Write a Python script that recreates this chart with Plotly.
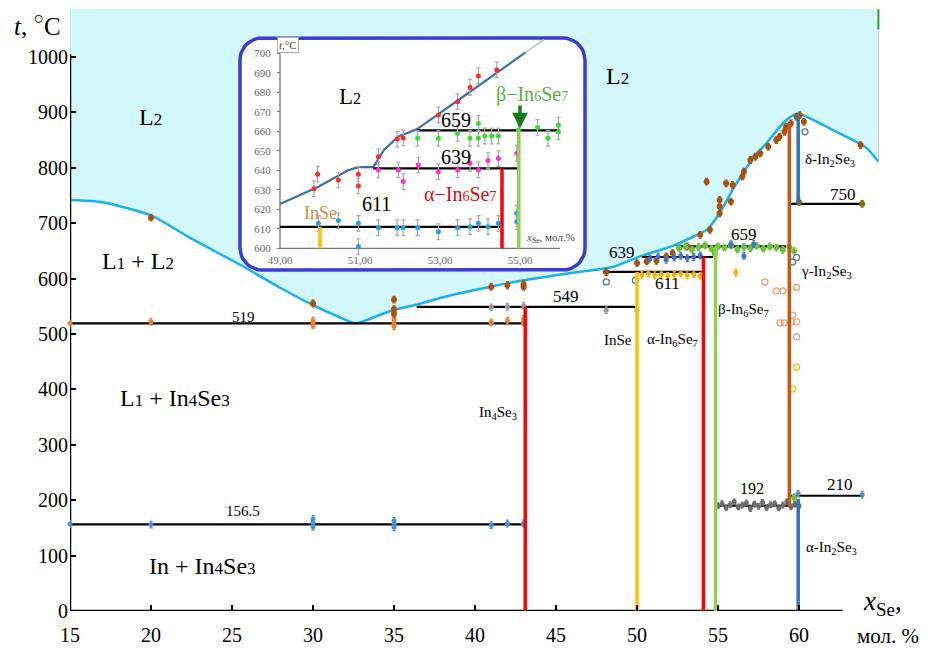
import numpy as np
import plotly.graph_objects as go

# ---------------- main diagram data ----------------
x_ticks = [15, 20, 25, 30, 35, 40, 45, 50, 55, 60]
y_ticks = [0, 100, 200, 300, 400, 500, 600, 700, 800, 900, 1000]

# liquidus (boundary of the L2 field)
liq_x = [15, 17, 20, 22.5, 25.5, 28, 30, 31.5, 32.6, 33.3, 34.9, 36.4, 38.5, 40.9, 43, 45.9,
         48.5, 50.2, 52.2, 53.5, 54.3, 55.1, 55.5, 55.9, 56.4, 56.8, 57.2, 57.8, 58.4, 59.0,
         59.65, 59.96, 60.9, 62.1, 63.35, 64.2, 64.9]
liq_t = [742, 738, 714, 672, 625, 583, 552, 532, 519, 525, 543, 553, 570, 585, 597, 610,
         621, 640, 659, 676, 688, 718, 739, 760, 784, 802, 820, 838, 859, 880,
         895, 898, 886, 868, 850, 835, 811]
l2_top = 1086

# invariant horizontals
iso_t = [519, 156.5, 549, 612, 639, 658, 735, 190, 208]
iso_x0 = [15, 15, 36.4, 47.9, 50.3, 52.45, 59.4, 54.9, 59.4]
iso_x1 = [43.1, 43.1, 50.0, 54.0, 54.7, 59.2, 63.9, 59.95, 63.9]
iso_lbl = ["519", "156.5", "549", "639", "611", "659", "750", "192", "210"]
iso_lbl_x = [25.7, 25.7, 45.6, 49.1, 51.9, 56.6, 62.7, 57.1, 62.5]
iso_lbl_t = [531, 180, 567, 647, 591, 679, 751, 221, 228]
iso_lbl_size = [15, 15, 17, 17, 17, 17, 17, 16, 17]

# phase (compound) verticals
ph_x = [43.1, 50.0, 54.1, 54.85, 59.4, 59.95, 59.95]
ph_t0 = [0, 0, 0, 0, 190, 735, 0]
ph_t1 = [549, 612, 639, 658, 881, 895, 202]
ph_col = ["#ff0000", "#ffc000", "#ff0000", "#92d050", "#c55a11", "#2e75b6", "#2e75b6"]

ph_lbl = ["In<sub>4</sub>Se<sub>3</sub>", "InSe", "α-In<sub>6</sub>Se<sub>7</sub>",
          "β-In<sub>6</sub>Se<sub>7</sub>", "γ-In<sub>2</sub>Se<sub>3</sub>",
          "δ-In<sub>2</sub>Se<sub>3</sub>", "α-In<sub>2</sub>Se<sub>3</sub>"]
ph_lbl_x = [41.4, 48.8, 52.2, 56.6, 61.7, 61.9, 62.0]
ph_lbl_t = [358, 489, 489, 543, 612, 814, 113]

# field labels
S = "<span style='font-size:17px'>{}</span>"
fld_lbl = ["L" + S.format(2), "L" + S.format(2), "L" + S.format(1) + " + L" + S.format(2),
           "L" + S.format(1) + " + In" + S.format(4) + "Se" + S.format(3),
           "In + In" + S.format(4) + "Se" + S.format(3)]
fld_x = [19.95, 48.8, 19.2, 21.5, 23.2]
fld_t = [891, 966, 632, 384, 81]

# experimental points (main)
or_x = [15, 20, 30, 30, 30, 35, 35, 35, 35, 41, 42, 43, 43]
or_t = [519, 522, 519, 524, 516, 519, 514, 526, 533, 521, 524, 521, 527]
br_x = [20, 30, 35, 35, 35, 41, 42, 43, 43, 48.1, 50.0, 50.6, 51.2, 51.8, 52.2, 53.1, 53.9,
        54.3, 54.5, 55.1, 55.1, 55.1, 55.5, 55.8, 55.9, 56.5, 56.6, 57.0, 57.3, 57.6, 58.1,
        58.6, 58.8, 59.1, 59.2, 59.5, 59.85, 60.05, 60.3, 63.8]
br_t = [710, 555, 562, 545, 537, 585, 588, 590, 585, 612, 628, 631, 632, 640, 646, 658, 679,
        775, 688, 742, 730, 718, 772, 739, 769, 784, 793, 814, 820, 826, 838,
        850, 856, 865, 874, 880, 892, 895, 883, 841]
ol_x = [60.0, 63.9]
ol_t = [738, 735]
gr_x = [41, 42, 43, 48.1, 50.0]
gr_t = [548, 549, 551, 543, 543]
bl_x = [15, 20, 30, 30, 30, 35, 35, 35, 41, 42, 43, 59.95, 63.9]
bl_t = [157, 156, 166, 159, 152, 163, 157, 151, 155, 158, 158, 212, 210]
b639_x = [50.8, 51.3, 51.8, 52.3, 52.7, 53.1, 53.5, 53.9, 55.8, 56.6, 57.2]
b639_t = [636, 640, 634, 638, 641, 637, 639, 642, 662, 641, 662]
gd_x = [50.3, 50.7, 51.1, 51.5, 51.9, 52.3, 52.7, 53.1, 53.5, 53.9, 56.1]
gd_t = [607, 609, 606, 608, 605, 607, 609, 606, 608, 605, 611]
gn_x = [52.6, 53.0, 53.4, 53.8, 54.2, 54.6, 55.0, 55.4, 55.8, 56.2, 56.6, 57.0, 57.4, 57.8,
        58.2, 58.6, 59.0, 59.4, 59.7, 54.8, 54.8, 59.7]
gn_t = [655, 658, 652, 657, 660, 654, 658, 656, 660, 653, 657, 655, 659, 654,
        658, 656, 652, 657, 650, 645, 650, 205]
o_open_x = [57.9, 58.6, 59.0, 59.85, 58.83, 59.1, 59.55, 59.85]
o_open_t = [594, 578, 578, 584, 520, 520, 522, 522]
b_open_x = [48.1, 49.9, 59.85, 59.6, 60.37]
b_open_t = [594, 597, 638, 630, 865]
g_open_x = [59.6, 59.85]
g_open_t = [534, 495]
y_open_x = [59.85, 59.6]
y_open_t = [440, 401]
k192_x = [55.0, 55.25, 55.5, 55.75, 56.0, 56.25, 56.5, 56.75, 57.0, 57.25, 57.5, 57.75, 58.0,
          58.25, 58.5, 58.75, 59.0, 59.25, 59.5, 59.75, 60.0]
k192_t = [190, 194, 186, 192, 197, 188, 191, 195, 185, 193, 189, 196, 187, 192, 194, 186,
          191, 197, 188, 193, 190]

# ---------------- inset data ----------------
in_x_ticks = [49, 51, 53, 55]
in_x_text = ["49,00", "51,00", "53,00", "55,00"]
in_y_ticks = [600, 610, 620, 630, 640, 650, 660, 670, 680, 690, 700]
in_liq_x = [49.0, 49.96, 50.7, 50.96, 51.33, 51.6, 51.96, 52.42, 53.7, 55.13]
in_liq_t = [622.7, 631.6, 640.0, 641.6, 641.6, 650.4, 657.3, 661.0, 679.5, 700.3]
in_liq_ext_x = [55.13, 55.6]
in_liq_ext_t = [700.3, 707.0]
in_iso_t = [611, 641, 660.5]
in_iso_x0 = [49.0, 51.33, 52.42]
in_iso_x1 = [54.5, 55.0, 56.0]
in_ph_x = [50.0, 54.55, 54.97]
in_ph_t1 = [611, 641, 660.5]
in_ph_col = ["#ffc000", "#ff0000", "#92d050"]
in_red_x = [49.85, 49.94, 50.46, 50.96, 50.96, 51.46, 51.93, 52.08, 52.96, 53.44, 53.75, 53.96, 54.42]
in_red_t = [630.6, 638.0, 635.0, 638.0, 632.0, 647.0, 656.0, 656.6, 668.4, 675.2, 682.6, 688.4, 691.5]
in_mag_x = [51.46, 51.96, 52.08, 52.46, 52.96, 53.44, 53.75, 53.96, 54.2, 54.46, 54.92]
in_mag_t = [640.2, 640.2, 634.2, 642.7, 639.3, 640.2, 643.6, 640.2, 645.0, 646.0, 648.7]
in_grn_x = [52.44, 52.96, 53.44, 53.75, 53.96, 53.96, 54.12, 54.29, 54.46, 54.96, 55.44, 55.7, 55.96, 55.96]
in_grn_t = [656.4, 656.4, 659.0, 656.4, 656.4, 664.0, 657.6, 657.6, 657.6, 660.7, 662.0, 656.4, 659.8, 663.2]
in_blu_x = [49.96, 50.46, 50.96, 50.96, 51.46, 51.93, 52.08, 52.44, 52.96, 53.44, 53.75, 53.96, 54.2, 54.46, 54.92, 54.92]
in_blu_t = [612.8, 614.2, 612.8, 600.9, 610.6, 610.6, 610.6, 610.6, 608.5, 610.6, 611.1, 612.8, 611.1, 612.8, 618.0, 613.7]

# ---------------- geometry helpers (window pixel layout) ----------------
# the page body has an 8 px default margin, so the figure starts at window (8, 8)
OFF = 8
W, H = 930, 648
ML, MR, MT, MB = 62, 58, 0, 45
PW, PH = W - ML - MR, H - MT - MB
Y_TOP = (611 - 8) / 0.554          # value at the top edge of the plot area


def px2paper_x(px):
    return (px - OFF - ML) / PW


def py2paper_y(py):
    return (H - MB - (py - OFF)) / PH


# inset: x=49 at px 280, 40 px/unit ; t=600 at py 248.3, 1.95 px/unit (window px)
IX0, IXS, IY0, IYS = 280.0, 40.0, 248.3, 1.95
dom_px = (237, 588)
dom_py = (273, 35)
in_xr = [49 - (IX0 - dom_px[0]) / IXS, 49 + (dom_px[1] - IX0) / IXS]
in_yr = [600 - (dom_py[0] - IY0) / IYS, 600 + (IY0 - dom_py[1]) / IYS]
bx0, bx1 = 49 - (IX0 - 240) / IXS, 49 + (585 - IX0) / IXS
by0, by1 = 600 - (270 - IY0) / IYS, 600 + (IY0 - 38) / IYS
rx, ry = 22 / IXS, 22 / IYS


def rounded(x0, x1, y0, y1, rx, ry, n=10):
    xs, ys = [], []
    for cx, cy, a0, a1 in [(x1 - rx, y1 - ry, 0, 90), (x0 + rx, y1 - ry, 90, 180),
                           (x0 + rx, y0 + ry, 180, 270), (x1 - rx, y0 + ry, 270, 360)]:
        for a in np.radians(np.linspace(a0, a1, n)):
            xs.append(cx + rx * np.cos(a))
            ys.append(cy + ry * np.sin(a))
    xs.append(xs[0])
    ys.append(ys[0])
    return xs, ys


def segs(x0s, x1s, t0s, t1s):
    xs, ys = [], []
    for a, b, c, d in zip(x0s, x1s, t0s, t1s):
        xs += [a, b, None]
        ys += [c, d, None]
    return xs, ys


fig = go.Figure()
NOH = dict(hoverinfo="skip", showlegend=False)

# L2 field fill
fig.add_trace(go.Scatter(x=[liq_x[0], liq_x[-1]], y=[l2_top, l2_top], mode="lines",
                         line=dict(width=0), **NOH))
fig.add_trace(go.Scatter(x=liq_x, y=liq_t, mode="lines", fill="tonexty", fillcolor="#d3f8fc",
                         line=dict(color="#1ab0ea", width=2.5, shape="spline", smoothing=0.6), **NOH))
fig.add_trace(go.Scatter(x=[liq_x[-1], liq_x[-1]], y=[liq_t[-1], l2_top], mode="lines",
                         line=dict(color="#c8c8c8", width=1), **NOH))
fig.add_trace(go.Scatter(x=[15, 15], y=[1005, l2_top], mode="lines",
                         line=dict(color="#d0d0d0", width=1), **NOH))
fig.add_trace(go.Scatter(x=[liq_x[-1], liq_x[-1]], y=[1050, l2_top], mode="lines",
                         line=dict(color="#2ca02c", width=2), **NOH))

# axes lines
fig.add_trace(go.Scatter(x=[15, 62.7], y=[0, 0], mode="lines", line=dict(color="black", width=2.5), **NOH))
fig.add_trace(go.Scatter(x=[15, 15], y=[0, 1005], mode="lines", line=dict(color="black", width=2.5), **NOH))

# isotherms
sx, sy = segs(iso_x0, iso_x1, iso_t, iso_t)
fig.add_trace(go.Scatter(x=sx, y=sy, mode="lines", line=dict(color="black", width=2.2), **NOH))


def pts(x, y, color, size=5, sym="circle", err=6, open_=False, xa="x", ya="y", ecol=None, ew=1.5):
    mk = dict(color=color, size=size, symbol=sym)
    if open_:
        mk = dict(color=color, size=size, symbol="circle-open", line=dict(color=color, width=1.3))
    tr = go.Scatter(x=x, y=y, mode="markers", marker=mk, xaxis=xa, yaxis=ya, cliponaxis=False, **NOH)
    if err:
        tr.error_y = dict(type="constant", value=err, color=ecol or color, thickness=1.2, width=ew)
    return tr


fig.add_trace(pts(k192_x, k192_t, "#6e6e6e", size=5, err=5))
fig.add_trace(pts(or_x, or_t, "#ed7d31"))
fig.add_trace(pts(br_x, br_t, "#a9500f", size=6))
fig.add_trace(pts(ol_x, ol_t, "#8a6d00", size=6))
fig.add_trace(pts(gr_x, gr_t, "#9a9a9a"))
fig.add_trace(pts(bl_x, bl_t, "#4a90d9"))
fig.add_trace(pts(gd_x, gd_t, "#f0b400"))
fig.add_trace(pts(gn_x, gn_t, "#70c040", size=6))
fig.add_trace(pts(b639_x, b639_t, "#3f72c0"))
fig.add_trace(pts(o_open_x, o_open_t, "#f4a070", size=6, err=0, open_=True))
fig.add_trace(pts(b_open_x, b_open_t, "#5577bb", size=6, err=0, open_=True))
fig.add_trace(pts(g_open_x, g_open_t, "#b0b0b0", size=6, err=0, open_=True))
fig.add_trace(pts(y_open_x, y_open_t, "#ffc000", size=6, err=0, open_=True))

# phase verticals
for x, t0, t1, c in zip(ph_x, ph_t0, ph_t1, ph_col):
    fig.add_trace(go.Scatter(x=[x, x], y=[t0, t1], mode="lines", line=dict(color=c, width=3.5), **NOH))

# ---------------- inset ----------------
bxs, bys = rounded(bx0, bx1, by0, by1, rx, ry)
fig.add_trace(go.Scatter(x=bxs, y=bys, mode="lines", fill="toself", fillcolor="white",
                         line=dict(color="#3c3ccf", width=3.5), xaxis="x2", yaxis="y2", **NOH))
fig.add_trace(go.Scatter(x=[49, 56], y=[600, 600], mode="lines", line=dict(color="#777", width=1.3),
                         xaxis="x2", yaxis="y2", **NOH))
fig.add_trace(go.Scatter(x=[49, 49], y=[600, 700], mode="lines", line=dict(color="#777", width=1.3),
                         xaxis="x2", yaxis="y2", **NOH))
fig.add_trace(go.Scatter(x=in_liq_ext_x, y=in_liq_ext_t, mode="lines", line=dict(color="#a9bfd6", width=1.5),
                         xaxis="x2", yaxis="y2", **NOH))
fig.add_trace(go.Scatter(x=in_liq_x, y=in_liq_t, mode="lines", line=dict(color="#3d6ea6", width=2.2),
                         xaxis="x2", yaxis="y2", **NOH))
sx, sy = segs(in_iso_x0, in_iso_x1, in_iso_t, in_iso_t)
fig.add_trace(go.Scatter(x=sx, y=sy, mode="lines", line=dict(color="black", width=2.2),
                         xaxis="x2", yaxis="y2", **NOH))
for arr_x, arr_t, c in [(in_red_x, in_red_t, "#ff2a2a"), (in_mag_x, in_mag_t, "#ff33cc"),
                        (in_grn_x, in_grn_t, "#33dd33"), (in_blu_x, in_blu_t, "#20a0e8")]:
    fig.add_trace(pts(arr_x, arr_t, c, size=5, err=4, xa="x2", ya="y2", ecol="#a8a8a8", ew=2))
for x, t1, c in zip(in_ph_x, in_ph_t1, in_ph_col):
    fig.add_trace(go.Scatter(x=[x, x], y=[600, t1], mode="lines", line=dict(color=c, width=3.5),
                             xaxis="x2", yaxis="y2", **NOH))

# ---------------- annotations ----------------
C = dict(xanchor="center", yanchor="middle", showarrow=False)
ann = []
for txt, x, t in zip(fld_lbl, fld_x, fld_t):
    ann.append(dict(x=x, y=t, text=txt, font=dict(size=24), **C))
for txt, x, t, s in zip(iso_lbl, iso_lbl_x, iso_lbl_t, iso_lbl_size):
    ann.append(dict(x=x, y=t, text=txt, font=dict(size=s), **C))
for txt, x, t in zip(ph_lbl, ph_lbl_x, ph_lbl_t):
    ann.append(dict(x=x, y=t, text=txt, font=dict(size=15), **C))

ann.append(dict(xref="paper", yref="paper", x=px2paper_x(37), y=py2paper_y(24),
                text="<i>t</i>, <sup>○</sup>C", font=dict(size=25), **C))
ann.append(dict(xref="paper", yref="paper", x=px2paper_x(882), y=py2paper_y(603),
                text="<i>x</i><sub>Se</sub>,", font=dict(size=27), **C))
ann.append(dict(xref="paper", yref="paper", x=px2paper_x(888), y=py2paper_y(636),
                text="мол. %", font=dict(size=21), **C))

s14 = "<span style='font-size:14px'>{}</span>"
in_ann = [
    ("L" + "<span style='font-size:16px'>2</span>", 50.75, 678, 23, "black"),
    ("659", 53.4, 666, 20, "black"),
    ("639", 53.4, 647, 20, "black"),
    ("611", 51.4, 622.5, 20, "black"),
    ("InSe", 50.0, 618, 18, "#d98a40"),
    ("α−In" + s14.format(6) + "Se" + s14.format(7), 53.5, 628, 20, "#cc1111"),
    ("β−In" + s14.format(6) + "Se" + s14.format(7), 55.3, 679, 20, "#5cb040"),
]
for txt, x, t, s, c in in_ann:
    ann.append(dict(x=x, y=t, xref="x2", yref="y2", text=txt, font=dict(size=s, color=c), **C))
ann.append(dict(x=55.0, y=661.5, ax=55.0, ay=674, xref="x2", yref="y2", axref="x2", ayref="y2",
                text="", showarrow=True, arrowhead=2, arrowsize=0.9, arrowwidth=3.5, arrowcolor="#1a7a1a"))
ann.append(dict(x=55.75, y=605.5, xref="x2", yref="y2", text="<i>x</i><sub>Se</sub>, мол.%",
                font=dict(size=11, color="#444"), **C))
ann.append(dict(x=49.2, y=704.3, xref="x2", yref="y2", text="<i>t</i>,°C",
                font=dict(size=11, color="#333"), bordercolor="#aaa", borderwidth=1, borderpad=1,
                bgcolor="white", **C))

fig.update_layout(
    width=W, height=H,
    margin=dict(l=ML, r=MR, t=MT, b=MB, autoexpand=False),
    paper_bgcolor="white", plot_bgcolor="rgba(0,0,0,0)",
    showlegend=False,
    font=dict(family="Liberation Serif", color="black"),
    annotations=ann,
    xaxis=dict(range=[15, 65], tickvals=x_ticks, ticks="inside", ticklen=6, tickwidth=2,
               tickcolor="black", showgrid=False, zeroline=False, showline=False,
               tickfont=dict(size=20), ticklabelstandoff=10, automargin=False),
    yaxis=dict(range=[0, Y_TOP], tickvals=y_ticks, ticks="inside", ticklen=6, tickwidth=2,
               tickcolor="black", showgrid=False, zeroline=False, showline=False,
               tickfont=dict(size=20), ticklabelstandoff=1, automargin=False),
    xaxis2=dict(domain=[px2paper_x(dom_px[0]), px2paper_x(dom_px[1])], anchor="free",
                position=py2paper_y(IY0), range=in_xr, tickvals=in_x_ticks, ticktext=in_x_text,
                ticks="", showgrid=False, zeroline=False, showline=False, automargin=False,
                tickfont=dict(size=11, color="#666"), ticklabelstandoff=4),
    yaxis2=dict(domain=[py2paper_y(dom_py[0]), py2paper_y(dom_py[1])], anchor="free",
                position=px2paper_x(IX0), range=in_yr, tickvals=in_y_ticks, ticks="outside",
                ticklen=3, tickcolor="#777", showgrid=False, zeroline=False, showline=False,
                automargin=False, tickfont=dict(size=11, color="#666"), ticklabelstandoff=4),
)

fig.write_html("out.html")
